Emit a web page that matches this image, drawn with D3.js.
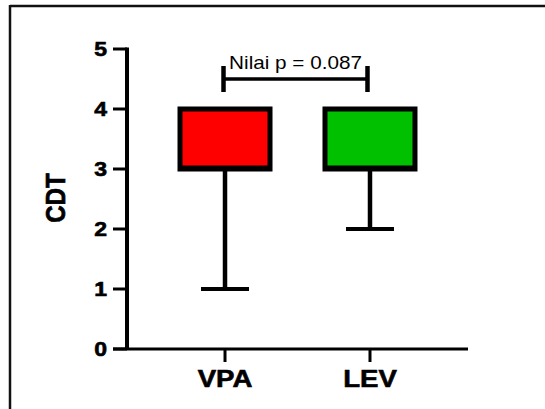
<!DOCTYPE html>
<html><head><meta charset="utf-8">
<script src="https://cdn.jsdelivr.net/npm/d3@7"></script>
<style>html,body{margin:0;padding:0;background:#fff;}svg{display:block;}</style>
</head><body>
<svg id="c" width="545" height="409"></svg>
<script>
const categories = ["VPA", "LEV"];
const q1 = [3, 3];
const median = [3, 3];
const q3 = [4, 4];
const whiskerLow = [1, 2];
const whiskerHigh = [4, 4];
const fills = ["#ff0000", "#00c000"];
const yTicks = [0, 1, 2, 3, 4, 5];
const yLabel = "CDT";
const pText = "Nilai p = 0.087";

const svg = d3.select("#c");
const SX = 1.15;
const font = "Arial, 'Liberation Sans', sans-serif";

// frame
svg.append("line").attr("x1", 10).attr("x2", 545).attr("y1", 6).attr("y2", 6).attr("stroke", "#111").attr("stroke-width", 2.5);
svg.append("line").attr("x1", 10).attr("x2", 10).attr("y1", 5).attr("y2", 409).attr("stroke", "#111").attr("stroke-width", 2.5);

const y = d3.scaleLinear().domain([0, 5]).range([349, 49]);
const x = d3.scalePoint().domain(categories).range([127, 468]).padding(0.676);
const xAxisLeft = 127, xAxisRight = 468;

// y axis
const ya = svg.append("g");
ya.append("line").attr("x1", xAxisLeft).attr("x2", xAxisLeft).attr("y1", y(5) - 1.5).attr("y2", y(0)).attr("stroke", "#000").attr("stroke-width", 4);
ya.selectAll("line.t").data(yTicks).join("line").attr("class", "t")
  .attr("x1", 113).attr("x2", xAxisLeft).attr("y1", d => y(d)).attr("y2", d => y(d))
  .attr("stroke", "#000").attr("stroke-width", 3);
ya.selectAll("text").data(yTicks).join("text")
  .attr("transform", d => `translate(107,${y(d) + 7}) scale(${SX},1)`)
  .attr("text-anchor", "end").attr("font-family", font).attr("font-weight", "bold").attr("font-size", 20)
  .attr("stroke", "#000").attr("stroke-width", 0.6)
  .text(d => d);

// x axis
const xa = svg.append("g");
xa.append("line").attr("x1", 113).attr("x2", xAxisRight).attr("y1", y(0)).attr("y2", y(0)).attr("stroke", "#000").attr("stroke-width", 3);
xa.selectAll("line.t").data(categories).join("line").attr("class", "t")
  .attr("x1", d => x(d)).attr("x2", d => x(d)).attr("y1", y(0)).attr("y2", y(0) + 13)
  .attr("stroke", "#000").attr("stroke-width", 3);
xa.selectAll("text").data(categories).join("text")
  .attr("transform", d => `translate(${x(d)},387) scale(${SX},1)`)
  .attr("text-anchor", "middle").attr("font-family", font).attr("font-weight", "bold").attr("font-size", 24)
  .attr("stroke", "#000").attr("stroke-width", 0.6)
  .text(d => d);

// y label
svg.append("text")
  .attr("transform", `translate(65,198) scale(${SX},1) rotate(-90)`)
  .attr("text-anchor", "middle").attr("font-family", font).attr("font-weight", "bold").attr("font-size", 24)
  .attr("stroke", "#000").attr("stroke-width", 0.6)
  .text(yLabel);

// boxes
const boxW = 90, capW = 48;
categories.forEach((c, i) => {
  const cx = x(c);
  const g = svg.append("g");
  g.append("line").attr("x1", cx).attr("x2", cx).attr("y1", y(q1[i])).attr("y2", y(whiskerLow[i])).attr("stroke", "#000").attr("stroke-width", 4.5);
  g.append("line").attr("x1", cx - capW / 2).attr("x2", cx + capW / 2).attr("y1", y(whiskerLow[i])).attr("y2", y(whiskerLow[i])).attr("stroke", "#000").attr("stroke-width", 4);
  if (whiskerHigh[i] > q3[i]) {
    g.append("line").attr("x1", cx).attr("x2", cx).attr("y1", y(q3[i])).attr("y2", y(whiskerHigh[i])).attr("stroke", "#000").attr("stroke-width", 4.5);
  }
  g.append("rect").attr("x", cx - boxW / 2).attr("y", y(q3[i])).attr("width", boxW).attr("height", y(q1[i]) - y(q3[i]))
    .attr("fill", fills[i]).attr("stroke", "#000").attr("stroke-width", 5);
  g.append("line").attr("x1", cx - boxW / 2).attr("x2", cx + boxW / 2).attr("y1", y(median[i]) - 1).attr("y2", y(median[i]) - 1).attr("stroke", "#000").attr("stroke-width", 5);
});

// significance bracket
const bx1 = x(categories[0]) - 1.5, bx2 = x(categories[1]) - 2.5;
const by = 79;
svg.append("line").attr("x1", bx1).attr("x2", bx2).attr("y1", by).attr("y2", by).attr("stroke", "#000").attr("stroke-width", 3.5);
[bx1, bx2].forEach(bx => {
  svg.append("line").attr("x1", bx).attr("x2", bx).attr("y1", 66).attr("y2", 92).attr("stroke", "#000").attr("stroke-width", 4.5);
});
svg.append("text")
  .attr("transform", `translate(${(bx1 + bx2) / 2},69) scale(${SX},1)`)
  .attr("text-anchor", "middle").attr("font-family", font).attr("font-size", 18)
  .text(pText);
</script>
</body></html>
